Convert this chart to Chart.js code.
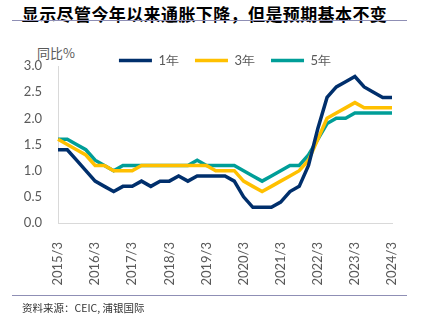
<!DOCTYPE html>
<html>
<head>
<meta charset="utf-8">
<script src="https://cdn.jsdelivr.net/npm/chart.js@4/dist/chart.umd.min.js"></script>
<style>
  html, body { margin: 0; padding: 0; background: #fff; }
  body { width: 422px; height: 326px; position: relative; overflow: hidden; }
  #title { position: absolute; left: 0; width: 409px; text-align: center; top: 1px; font: 700 17px "Noto Sans CJK SC", sans-serif; color: #000; white-space: nowrap; letter-spacing: 0.4px; }
  .rule { position: absolute; left: 12px; width: 395px; height: 0; border-top: 1.5px solid #8f8fb5; }
  #unit { position: absolute; left: 37px; top: 43px; font: 13px "Noto Sans CJK SC", sans-serif; color: #595959; }
  #source { position: absolute; left: 22px; top: 300px; font: 10.5px "Noto Sans CJK SC", sans-serif; color: #333; }
  #wrap { position: absolute; left: 0; top: 0; width: 422px; height: 326px; }
</style>
</head>
<body>
<div id="title">显示尽管今年以来通胀下降，但是预期基本不变</div>
<div class="rule" style="top:20px"></div>
<div id="unit">同比%</div>
<div id="wrap"><canvas id="chart"></canvas></div>
<div class="rule" style="top:295px"></div>
<div id="source">资料来源：CEIC, 浦银国际</div>
<script>
// 季度数据 2015/3 - 2024/3
var labels = [
  '2015/3','2015/6','2015/9','2015/12',
  '2016/3','2016/6','2016/9','2016/12',
  '2017/3','2017/6','2017/9','2017/12',
  '2018/3','2018/6','2018/9','2018/12',
  '2019/3','2019/6','2019/9','2019/12',
  '2020/3','2020/6','2020/9','2020/12',
  '2021/3','2021/6','2021/9','2021/12',
  '2022/3','2022/6','2022/9','2022/12',
  '2023/3','2023/6','2023/9','2023/12',
  '2024/3'
];
var y1 = [1.4,1.4,1.2,1.0,0.8,0.7,0.6,0.7,0.7,0.8,0.7,0.8,0.8,0.9,0.8,0.9,0.9,0.9,0.9,0.8,0.5,0.3,0.3,0.3,0.4,0.6,0.7,1.1,1.8,2.4,2.6,2.7,2.8,2.6,2.5,2.4,2.4];
var y3 = [1.6,1.5,1.4,1.3,1.1,1.1,1.0,1.0,1.0,1.1,1.1,1.1,1.1,1.1,1.1,1.1,1.1,1.0,1.0,1.0,0.8,0.7,0.6,0.7,0.8,0.9,1.0,1.2,1.6,2.0,2.1,2.2,2.3,2.2,2.2,2.2,2.2];
var y5 = [1.6,1.6,1.5,1.4,1.2,1.1,1.0,1.1,1.1,1.1,1.1,1.1,1.1,1.1,1.1,1.2,1.1,1.1,1.1,1.1,1.0,0.9,0.8,0.9,1.0,1.1,1.1,1.3,1.6,1.9,2.0,2.0,2.1,2.1,2.1,2.1,2.1];
var seriesNames = ['1年', '3年', '5年'];
var colors = ['#002F6C', '#FFC000', '#009E98'];

// 图例高度收紧一点，让图例贴近绘图区
const legendTrim = {
    id: 'legendTrim',
    afterInit(chart) {
        const fit = chart.legend.fit;
        chart.legend.fit = function () {
            fit.call(this);
            this.height -= 11;
        };
    }
};

const ctx = document.getElementById('chart');
const chart = new Chart(ctx, {
    type: 'line',
    data: {
        labels: labels,
        datasets: [y1, y3, y5].map((d, i) => ({
            label: seriesNames[i],
            data: d,
            borderColor: colors[i],
            backgroundColor: colors[i],
            borderWidth: 3.5,
            pointRadius: 0,
            tension: 0
        }))
    },
    options: {
        responsive: true,
        maintainAspectRatio: false,
        animation: false,
        layout: { padding: { left: 0, right: 30, top: 38, bottom: 40 } },
        plugins: {
            legend: {
                position: 'top',
                fullSize: false,
                labels: {
                    usePointStyle: true,
                    pointStyle: 'line',
                    pointStyleWidth: 33,
                    padding: 16,
                    color: '#595959',
                    font: { family: 'Lato', size: 13 }
                }
            },
            tooltip: { enabled: false }
        },
        scales: {
            x: {
                grid: { display: false },
                border: { display: true, color: '#d9d9d9' },
                ticks: {
                    autoSkip: false,
                    maxRotation: 90,
                    minRotation: 90,
                    padding: 11,
                    color: '#595959',
                    font: { family: 'Lato', size: 13 },
                    callback: function (v, i) {
                        return i % 4 === 0 ? labels[i] : '';
                    }
                },
                afterFit: function (s) { s.height = 63; }
            },
            y: {
                min: 0,
                max: 3,
                grid: { display: false },
                border: { display: true, color: '#d9d9d9' },
                ticks: {
                    stepSize: 0.5,
                    padding: 8,
                    color: '#595959',
                    font: { family: 'Lato', size: 13 },
                    callback: function (v) { return v.toFixed(1); }
                },
                afterFit: function (s) { s.width = 58; }
            }
        }
    },
    plugins: [legendTrim]
});
</script>
</body>
</html>
